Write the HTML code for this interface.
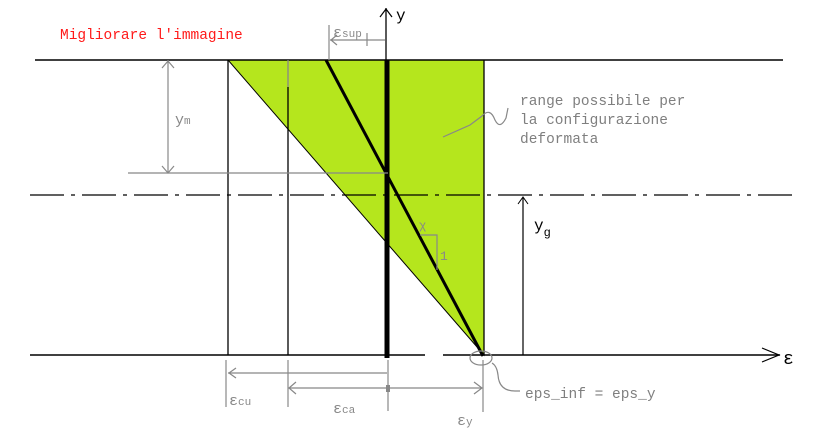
<!DOCTYPE html>
<html><head><meta charset="utf-8"><style>
html,body{margin:0;padding:0;background:#fff;}
svg{display:block;}
text{font-family:"Liberation Mono",monospace;}
</style></head><body>
<svg width="823" height="445" viewBox="0 0 823 445">
<polygon points="228,60 484,60 484,355" fill="#b5e61d" stroke="#000" stroke-width="1"/>
<line x1="35" y1="60" x2="783" y2="60" stroke="#000" stroke-width="1.5"/>
<line x1="30" y1="355" x2="425" y2="355" stroke="#000" stroke-width="1.5"/>
<line x1="443" y1="355" x2="780" y2="355" stroke="#000" stroke-width="1.5"/>
<polyline points="762,348 779,355 762,362" fill="none" stroke="#000" stroke-width="1.2"/>
<text x="783" y="364" font-size="18" fill="#000">ε</text>
<line x1="30" y1="195" x2="797" y2="195" stroke="#000" stroke-width="1.2" stroke-dasharray="34,7,4,7"/>
<line x1="228" y1="60" x2="228" y2="355" stroke="#000" stroke-width="1.3"/>
<line x1="288" y1="60" x2="288" y2="87" stroke="#888" stroke-width="1.3"/>
<line x1="288" y1="87" x2="288" y2="355" stroke="#000" stroke-width="1.3"/>
<line x1="484" y1="60" x2="484" y2="355" stroke="#000" stroke-width="1.3"/>
<line x1="386" y1="8" x2="386" y2="60" stroke="#000" stroke-width="1.3"/>
<polyline points="380,17 386,9 392,17" fill="none" stroke="#000" stroke-width="1.2"/>
<text x="396" y="20" font-size="16" fill="#000">y</text>
<line x1="387" y1="60" x2="387" y2="358" stroke="#000" stroke-width="5"/>
<line x1="326" y1="60" x2="483" y2="356" stroke="#000" stroke-width="3"/>
<line x1="523" y1="355" x2="523" y2="198" stroke="#000" stroke-width="1.2"/>
<polyline points="518,204 523,197 528,204" fill="none" stroke="#000" stroke-width="1"/>
<text x="534" y="230" font-size="16" fill="#000">y<tspan font-size="12" dy="6">g</tspan></text>
<g stroke="#888" stroke-width="1.2" fill="none">
<line x1="168" y1="60" x2="168" y2="173"/>
<polyline points="162,68 168,61 174,68"/>
<polyline points="162,166 168,173 174,166"/>
<line x1="128" y1="173" x2="388" y2="173"/>
<line x1="329" y1="25" x2="329" y2="60"/>
<line x1="330" y1="40" x2="385" y2="40"/>
<polyline points="337,35 331,40 337,45"/>
<line x1="367" y1="33" x2="367" y2="46"/>
<line x1="228" y1="373" x2="387" y2="373"/>
<polyline points="236,368 229,373 236,378"/>
<line x1="288" y1="388" x2="482" y2="388"/>
<polyline points="296,382 289,388 296,394"/>
<polyline points="474,382 482,388 474,394"/>
<line x1="226" y1="360" x2="226" y2="407"/>
<line x1="288" y1="360" x2="288" y2="407"/>
<line x1="388" y1="360" x2="388" y2="411"/>
<line x1="483" y1="360" x2="483" y2="412"/>
<ellipse cx="481" cy="358" rx="11" ry="7"/>
<path d="M492,363 Q497,366 498,375 Q499,391 515,391 L520,391"/>
<path d="M443,137 L470,125 L482,116 Q490,107 495,120 Q500,130 506,118 L508,108"/>
<polyline points="420,235 437,235 437,270"/>
</g>
<rect x="386" y="385" width="4" height="7" fill="#888"/>
<text x="60" y="39" font-size="14.5" fill="#ff1a1a">Migliorare l'immagine</text>
<text x="520" y="105" font-size="14.5" fill="#7f7f7f">range possibile per</text>
<text x="520" y="124" font-size="14.5" fill="#7f7f7f">la configurazione</text>
<text x="520" y="143" font-size="14.5" fill="#7f7f7f">deformata</text>
<text x="525" y="398" font-size="14.5" fill="#7f7f7f">eps_inf = eps_y</text>
<g fill="#888" font-size="15">
<text x="333" y="37">ε<tspan font-size="11">sup</tspan></text>
<text x="175" y="124">y<tspan font-size="11">m</tspan></text>
<text x="229" y="405">ε<tspan font-size="11">cu</tspan></text>
<text x="333" y="413">ε<tspan font-size="11">ca</tspan></text>
<text x="457" y="425">ε<tspan font-size="11">y</tspan></text>
<text x="419" y="229" font-size="12">χ</text>
<text x="440" y="260" font-size="13">1</text>
</g>
</svg>
</body></html>
